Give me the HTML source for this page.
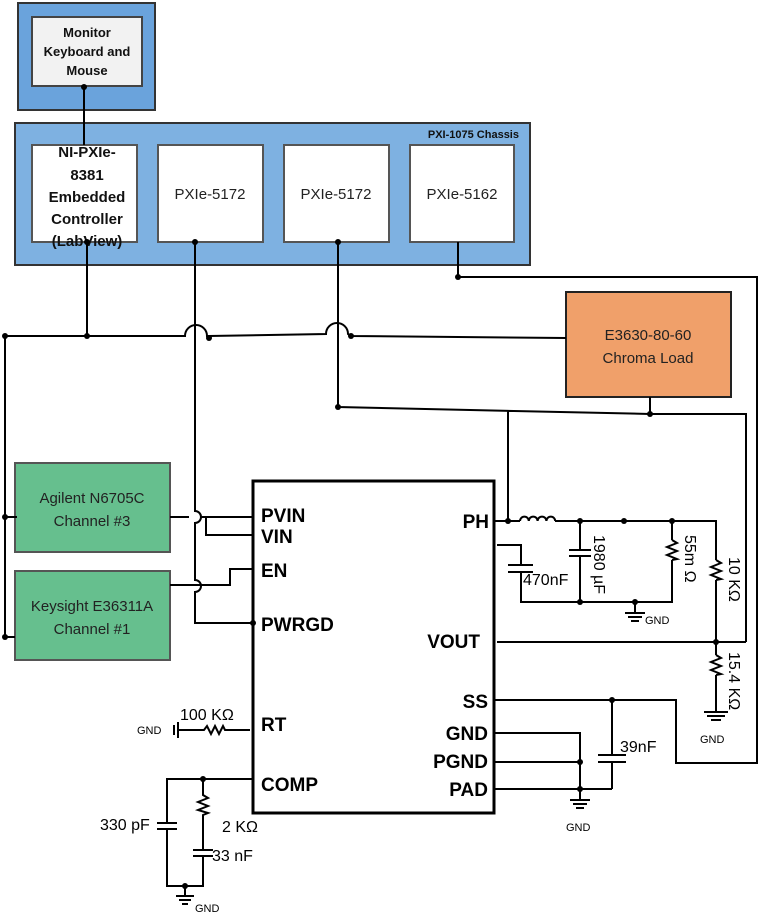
<!DOCTYPE html>
<html><head><meta charset="utf-8"><style>body{margin:0;background:#fff}svg{display:block}</style></head><body>
<svg width="759" height="922" viewBox="0 0 759 922" xmlns="http://www.w3.org/2000/svg" font-family="Liberation Sans, sans-serif">
<g stroke="#333" stroke-width="2">
<rect x="18" y="3" width="137" height="107" fill="#6aa3dc"/>
<rect x="32" y="17" width="110" height="69" fill="#f2f2f2" stroke="#444"/>
<rect x="15" y="123" width="515" height="142" fill="#7eb1e1"/>
<rect x="32" y="145" width="105" height="97" fill="#fff" stroke="#555"/>
<rect x="158" y="145" width="105" height="97" fill="#fff" stroke="#555"/>
<rect x="284" y="145" width="105" height="97" fill="#fff" stroke="#555"/>
<rect x="410" y="145" width="104" height="97" fill="#fff" stroke="#555"/>
<rect x="566" y="292" width="165" height="105" fill="#f0a06a" stroke="#222"/>
<rect x="15" y="463" width="155" height="89" fill="#66bf8e" stroke="#555"/>
<rect x="15" y="571" width="155" height="89" fill="#66bf8e" stroke="#555"/>
<rect x="253" y="481" width="241" height="332" fill="#fff" stroke="#000" stroke-width="3"/>
</g>
<g font-weight="bold" font-size="13" text-anchor="middle" fill="#111">
<text x="87" y="37">Monitor</text><text x="87" y="56">Keyboard and</text><text x="87" y="75">Mouse</text>
<text x="519" y="138" text-anchor="end" font-size="11">PXI-1075 Chassis</text>
<g font-size="15"><text x="87" y="157">NI-PXIe-</text><text x="87" y="180">8381</text><text x="87" y="202">Embedded</text><text x="87" y="224">Controller</text><text x="87" y="246">(LabView)</text></g>
</g>
<g font-size="15" text-anchor="middle" fill="#222">
<text x="210" y="199">PXIe-5172</text><text x="336" y="199">PXIe-5172</text><text x="462" y="199">PXIe-5162</text>
<text x="648" y="340">E3630-80-60</text><text x="648" y="363">Chroma Load</text>
<text x="92" y="503">Agilent N6705C</text><text x="92" y="526">Channel #3</text>
<text x="92" y="611">Keysight E36311A</text><text x="92" y="634">Channel #1</text>
</g>
<g font-weight="bold" font-size="19" fill="#000">
<text x="261" y="522">PVIN</text><text x="261" y="543">VIN</text><text x="261" y="577">EN</text><text x="261" y="631">PWRGD</text><text x="261" y="731">RT</text><text x="261" y="791">COMP</text>
<g text-anchor="end"><text x="489" y="528">PH</text><text x="480" y="648">VOUT</text><text x="488" y="708">SS</text><text x="488" y="740">GND</text><text x="488" y="768">PGND</text><text x="488" y="796">PAD</text></g>
</g>
<g fill="none" stroke="#000" stroke-width="2">
<path d="M84 87V145M87 242V336M5 336H185a11 11 0 0 1 22 0H209L326 334a11 11 0 0 1 22 0L351 336 566 338"/>
<path d="M5 336V637M5 517H17M5 637H15"/>
<path d="M195 242V511a6 6 0 0 1 0 12V580a6 6 0 0 1 0 12V623H253"/>
<path d="M170 517H189M201 517H253M206 517V535H253M170 585H230V569H253"/>
<path d="M458 242V277H757V763H676V700H494M612 700V755M612 762V789M598 755H626M598 762H626M494 789H612"/>
<path d="M338 242V407L650 414H746V642M650 397V414M508 410V521"/>
<path d="M494 521H520M555 521H716V560M716 580V655M716 675V712M497 642H746"/>
<path d="M520 521a4.4 4.4 0 0 1 8.8 0a4.4 4.4 0 0 1 8.8 0a4.4 4.4 0 0 1 8.8 0a4.4 4.4 0 0 1 8.8 0"/>
<path d="M497 545H521V565M521 572V602H672V560M508 565H533M508 572H533M580 521V550M580 556V602M569 550H591M569 556H591M672 521V540"/>
<path d="M672 540l5 3-10 4 10 4-10 4 10 4-5 1M716 560l5 3-10 4 10 4-10 4 10 4-5 1M716 655l5 3-10 4 10 4-10 4 10 4-5 1"/>
<path d="M635 602V613M625 613H645M628 617H642M631 621H639M704 712H728M707 716H725M711 720H721"/>
<path d="M494 733H580V800M494 762H580M570 800H590M573 804H587M576 808H584"/>
<path d="M250 730H225l-2 -4-4 8-4-8-4 8-4-8-3 4H178M178 722V738M174 725V735"/>
<path d="M253 779H167V823M167 829V886H203V856M157 823H177M157 829H177M203 779V795l5 3-10 4 10 4-10 4 10 3-5 2V850M193 850H213M193 856H213M185 886V896M176 896H194M179 900H191M182 904H188"/>
</g>
<g fill="#000">
<circle cx="84" cy="87" r="3"/><circle cx="87" cy="242" r="3"/><circle cx="195" cy="242" r="3"/><circle cx="338" cy="242" r="3"/>
<circle cx="458" cy="277" r="3"/><circle cx="5" cy="336" r="3"/><circle cx="87" cy="336" r="3"/><circle cx="209" cy="338" r="3"/><circle cx="351" cy="336" r="3"/>
<circle cx="338" cy="407" r="3"/><circle cx="650" cy="414" r="3"/><circle cx="5" cy="517" r="3"/><circle cx="5" cy="637" r="3"/><circle cx="253" cy="623" r="3"/>
<circle cx="508" cy="521" r="3"/><circle cx="580" cy="521" r="3"/><circle cx="624" cy="521" r="3"/><circle cx="672" cy="521" r="3"/>
<circle cx="580" cy="602" r="3"/><circle cx="635" cy="602" r="3"/><circle cx="716" cy="642" r="3"/><circle cx="612" cy="700" r="3"/>
<circle cx="580" cy="762" r="3"/><circle cx="580" cy="789" r="3"/><circle cx="203" cy="779" r="3"/><circle cx="185" cy="886" r="3"/>
</g>
<g font-size="16" fill="#000">
<text x="523" y="585">470nF</text><text x="620" y="752">39nF</text>
<text x="180" y="720">100 KΩ</text><text x="100" y="830">330 pF</text><text x="222" y="832">2 KΩ</text><text x="212" y="861">33 nF</text>
<text transform="translate(594 535) rotate(90)">1980 µF</text>
<text transform="translate(685 535) rotate(90)">55m Ω</text>
<text transform="translate(729 557) rotate(90)">10 KΩ</text>
<text transform="translate(729 652) rotate(90)">15.4 KΩ</text>
</g>
<g font-size="11" fill="#000"><text x="645" y="624">GND</text><text x="700" y="743">GND</text><text x="566" y="831">GND</text><text x="137" y="734">GND</text><text x="195" y="912">GND</text></g>
</svg>
</body></html>
